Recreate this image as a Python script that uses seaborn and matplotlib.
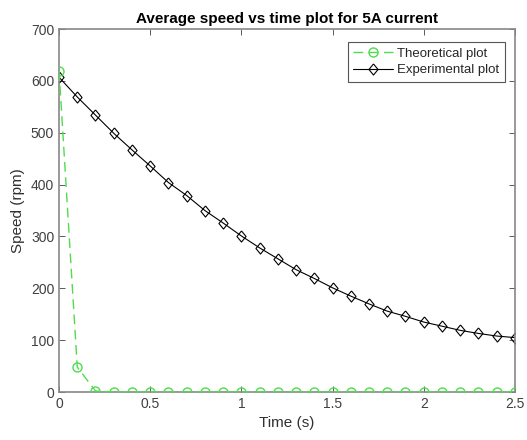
import numpy as np
import pandas as pd
import matplotlib
matplotlib.use("Agg")
import matplotlib.pyplot as plt
import seaborn as sns

time_s = [0.0, 0.1, 0.2, 0.3, 0.4, 0.5, 0.6, 0.7, 0.8, 0.9, 1.0, 1.1, 1.2,
          1.3, 1.4, 1.5, 1.6, 1.7, 1.8, 1.9, 2.0, 2.1, 2.2, 2.3, 2.4, 2.5]
theoretical = [620, 48, 2, 0, 0, 0, 0, 0, 0, 0, 0, 0, 0,
               0, 0, 0, 0, 0, 0, 0, 0, 0, 0, 0, 0, 0]
experimental = [607, 569, 534, 499, 467, 436, 404, 379, 350, 326, 301, 278, 257,
                236, 219, 201, 185, 170, 156, 146, 135, 127, 119, 113, 108, 105]
x_ticks = [0, 0.5, 1, 1.5, 2, 2.5]
x_tick_labels = ["0", "0.5", "1", "1.5", "2", "2.5"]
y_ticks = [0, 100, 200, 300, 400, 500, 600, 700]

sns.set_style("ticks")
plt.rcParams["font.family"] = ["Liberation Sans", "DejaVu Sans"]

fig = plt.figure(figsize=(5.27, 4.4), dpi=100)
ax = fig.add_axes([0.112, 0.109, 0.865, 0.825])

df_t = pd.DataFrame({"t": time_s, "v": theoretical})
df_e = pd.DataFrame({"t": time_s, "v": experimental})

diamond = [(0, 1), (0.82, 0), (0, -1), (-0.82, 0), (0, 1)]

green = "#4fdc4f"
sns.lineplot(data=df_t, x="t", y="v", ax=ax, color=green, linestyle=(0, (7, 4)),
             linewidth=1.0, marker="o", markersize=6.5, markerfacecolor="none",
             markeredgecolor=green, markeredgewidth=1.0, label="Theoretical plot",
             zorder=3)
sns.lineplot(data=df_e, x="t", y="v", ax=ax, color="black", linewidth=0.8,
             marker=diamond, markersize=8, markerfacecolor="none",
             markeredgecolor="black", markeredgewidth=0.8, label="Experimental plot",
             zorder=2)

ax.set_xlim(0, 2.5)
ax.set_ylim(0, 700)
ax.set_xticks(x_ticks)
ax.set_xticklabels(x_tick_labels)
ax.set_yticks(y_ticks)
ax.tick_params(direction="in", top=True, right=True, length=4, width=0.6,
               colors="#404040", labelsize=10, labelcolor="#404040")
for s in ax.spines.values():
    s.set_visible(True)
    s.set_color("#888888")
    s.set_linewidth(1.2)

ax.set_xlabel("Time (s)", fontsize=11, color="#303030")
ax.set_ylabel("Speed (rpm)", fontsize=11, color="#303030")
ax.set_title("Average speed vs time plot for 5A current", fontsize=11,
             fontweight="bold", color="black", pad=4)

leg = ax.legend(loc="upper right", fontsize=9.5, frameon=True, fancybox=False,
                edgecolor="#555555", framealpha=1, borderpad=0.45,
                handlelength=3.0, handletextpad=0.3, labelspacing=0.3,
                bbox_to_anchor=(0.993, 0.983))
leg.get_frame().set_linewidth(0.8)

fig.savefig("out.png", dpi=100, facecolor="white")
